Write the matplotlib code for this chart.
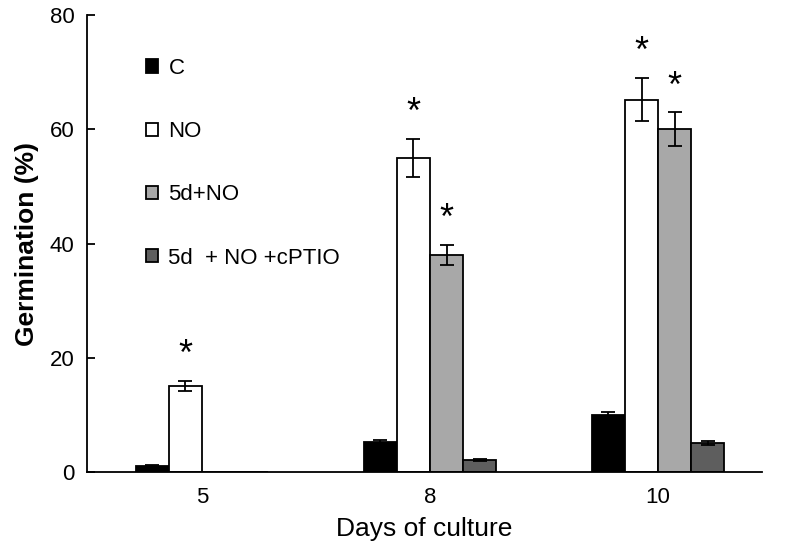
import matplotlib.pyplot as plt
import numpy as np

plt.rcParams['font.family'] = ['Liberation Sans', 'DejaVu Sans']

days = ["5", "8", "10"]
treatments = ["C", "NO", "5d+NO", "5d  + NO +cPTIO"]
colors = ["#000000", "#ffffff", "#a8a8a8", "#5e5e5e"]

# germination (%) per treatment, one value per day
means = [
    [1.0, 5.3, 10.0],    # C
    [15.1, 55.0, 65.2],  # NO
    [0.0, 38.0, 60.0],   # 5d+NO
    [0.0, 2.1, 5.1],     # 5d + NO + cPTIO
]
errors = [
    [0.3, 0.3, 0.5],
    [0.9, 3.3, 3.8],
    [0.0, 1.8, 3.0],
    [0.0, 0.2, 0.35],
]
significant = [
    [False, False, False],
    [True, True, True],
    [False, True, True],
    [False, False, False],
]

fig, ax = plt.subplots(figsize=(7.86, 5.46), dpi=100)
fig.subplots_adjust(left=0.1107, right=0.9695, top=0.9725, bottom=0.1355)

x = np.arange(len(days))
w = 0.145
handles = []
for i, name in enumerate(treatments):
    pos = x + (i - 1.5) * w
    b = ax.bar(pos, means[i], w, color=colors[i], edgecolor="black",
               linewidth=1.3, label=name, zorder=2)
    handles.append(b)
    for j in range(len(days)):
        if errors[i][j] > 0:
            ax.errorbar(pos[j], means[i][j], yerr=errors[i][j], fmt="none",
                        ecolor="black", elinewidth=1.3, capsize=5,
                        capthick=1.3, zorder=3)
        if significant[i][j]:
            ax.text(pos[j], means[i][j] + errors[i][j] + 4.4, "*",
                    ha="center", va="center", fontsize=26, zorder=3)

ax.set_xlim(-0.504, 2.456)
ax.set_ylim(0, 80)
ax.set_yticks([0, 20, 40, 60, 80])
ax.set_xticks(x)
ax.set_xticklabels(days)
ax.tick_params(axis="x", length=0, pad=11, labelsize=16)
ax.tick_params(axis="y", direction="in", length=6, width=1.3, pad=9,
               labelsize=16)
for s in ["top", "right"]:
    ax.spines[s].set_visible(False)
for s in ["left", "bottom"]:
    ax.spines[s].set_linewidth(1.3)

ax.set_xlabel("Days of culture", fontsize=19, labelpad=6)
ax.set_ylabel("Germination (%)", fontsize=19, fontweight="bold", labelpad=8)

ax.legend(handles=handles, loc="upper left", bbox_to_anchor=(0.058, 0.95),
          frameon=False, fontsize=16, handlelength=0.55, handleheight=0.55,
          handletextpad=0.45, labelspacing=1.9)

plt.savefig("out.png", dpi=100)
